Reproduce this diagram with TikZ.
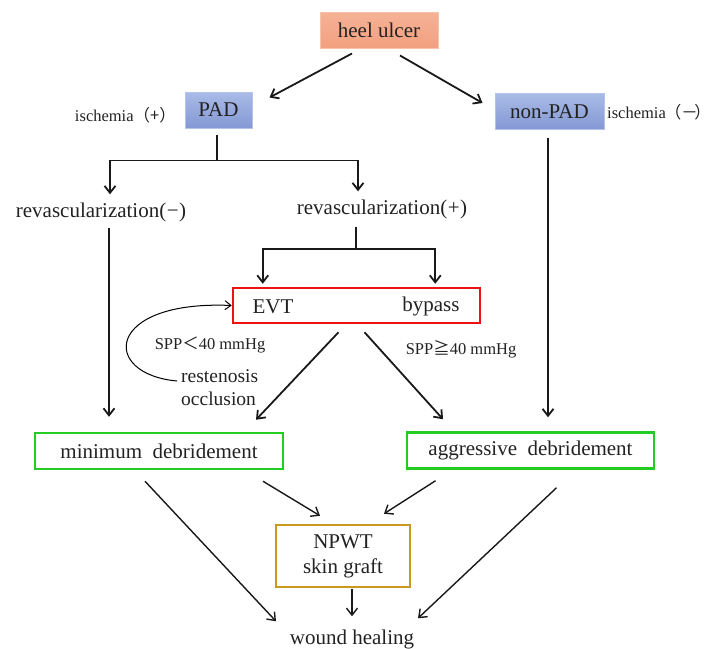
\documentclass[tikz,border=0pt]{standalone}
\usepackage{fontspec}
\setmainfont{Liberation Serif}
\newfontfamily\cjk{Noto Sans CJK SC}
\usetikzlibrary{arrows.meta,calc}
\definecolor{salmont}{HTML}{F6B296}
\definecolor{salmonbt}{HTML}{F2A07F}
\definecolor{salmonb}{HTML}{F7C2AA}
\definecolor{padt}{HTML}{A9BBE6}
\definecolor{padbt}{HTML}{8498D4}
\definecolor{padblueb}{HTML}{B4C3E8}
\definecolor{boxgreen}{HTML}{22CC22}
\definecolor{boxred}{HTML}{EE1111}
\definecolor{boxgold}{HTML}{C9981E}
\definecolor{txt}{HTML}{222222}
\tikzset{
  x=1pt, y=-1pt,
  every node/.style={text=txt, inner sep=0pt},
  big/.style={font=\fontsize{21}{24}\selectfont},
  small/.style={font=\fontsize{16.5}{19}\selectfont},
  mid/.style={font=\fontsize{19.5}{23}\selectfont},
  filledbox/.style={big, minimum width=#1, minimum height=36pt, line width=1pt},
  greenbox/.style={big, draw=boxgreen, line width=2.5pt, minimum width=#1, minimum height=36pt},
  arr/.style={-{Straight Barb[length=7pt,width=11pt]}, line width=1.8pt, draw=black!90},
  thinarr/.style={-{Straight Barb[length=7pt,width=11pt]}, line width=1.4pt, draw=black!90},
  plain/.style={line width=1.8pt, draw=black!90},
}
\begin{document}
\begin{tikzpicture}
\useasboundingbox (0,0) rectangle (711,648);
% nodes
\node[filledbox=118pt, top color=salmont, bottom color=salmonbt, draw=salmonb] (heel) at (379,30) {heel ulcer};
\node[filledbox=67pt, top color=padt, bottom color=padbt, draw=padblueb] (pad) at (218.5,110) {PAD};
\node[filledbox=109pt, top color=padt, bottom color=padbt, draw=padblueb] (npad) at (549.5,111.5) {non-PAD};
\node[small, anchor=east] (ischp) at (176,115) {ischemia{\cjk（+）}};
\node[small, anchor=west] (ischm) at (607,112) {ischemia\kern-1pt{\cjk（－}\kern-3.5pt{\cjk）}};
\node[big] (revm) at (101,212) {revascularization(\kern0.5pt−\kern0.5pt)};
\node[big] (revp) at (382,209) {revascularization(\kern0.5pt+\kern0.5pt)};
\node[big, draw=boxred, line width=2.5pt, minimum width=247pt, minimum height=35pt] (evt) at (356.5,305.5) {};
\node[big] (evtt) at (273,306.5) {EVT};
\node[big] (byp) at (431,306.5) {bypass};
\node[small] (sppl) at (210,345) {SPP{\cjk＜}40 mmHg};
\node[small] (spph) at (461,349) {SPP{\cjk≧}40 mmHg};
\node[mid, align=left, anchor=north west] (rest) at (181,369) {restenosis\\occlusion};
\node[greenbox=248pt] (mind) at (159,451) {minimum\ \ debridement};
\node[greenbox=247pt] (aggd) at (530.5,450.5) {aggressive\ \ debridement};
\node[big, draw=boxgold, line width=2.5pt, minimum width=134pt, minimum height=62pt, align=center] (npwt) at (343,556) {NPWT\\[1pt]skin graft};
\node[big] (heal) at (352,639) {wound healing};
% connectors
\draw[arr] ($(heel.south)+(-27,5)$) -- ($(pad.north east)+(17,6)$);
\draw[arr] ($(heel.south)+(21,7)$) -- ($(npad.north west)+(-12,10)$);
\coordinate (padj) at ($(pad.south)+(-1.5,32)$);
\draw[plain] ($(pad.south)+(-1.5,6)$) -- (padj);
\draw[arr] (padj) -| ($(revm.north)+(9,-8)$);
\draw[arr] (padj) -| ($(revp.north)+(-24,-8)$);
\coordinate (revj) at ($(revp.south)+(-26,30)$);
\draw[plain] ($(revp.south)+(-26,8)$) -- (revj);
\draw[arr] (revj) -| ($(evt.north west)+(31,-3)$);
\draw[arr] (revj) -| ($(evt.north east)+(-46,-3)$);
\draw[line width=1pt, -{Straight Barb[length=6pt,width=9pt]}] ($(rest.north west)+(-4,12)$) .. controls (100,374) and (105,300) .. (evt.west);
\draw[arr] ($(evt.south)+(-18,8)$) -- ($(mind.north)+(97,-12)$);
\draw[arr] ($(evt.south)+(8,8)$) -- ($(aggd.north)+(-87.5,-12)$);
\draw[arr] ($(revm.south)+(8,6)$) -- ($(mind.north)+(-50,-15)$);
\draw[arr] ($(npad.south)+(-1.5,8)$) -- ($(aggd.north)+(17.5,-14)$);
\draw[thinarr] ($(mind.south)+(-14,11)$) -- ($(heal.north)+(-76,-8)$);
\draw[thinarr] ($(mind.south)+(104,11)$) -- ($(npwt.north)+(-23,-8)$);
\draw[thinarr] ($(aggd.south)+(-95,11)$) -- ($(npwt.north)+(41,-10)$);
\draw[thinarr] ($(aggd.south)+(26,18)$) -- ($(heal.north)+(66,-11)$);
\draw[thinarr] ($(npwt.south)+(9,1)$) -- ($(heal.north)+(0,-13)$);
\end{tikzpicture}
\end{document}
